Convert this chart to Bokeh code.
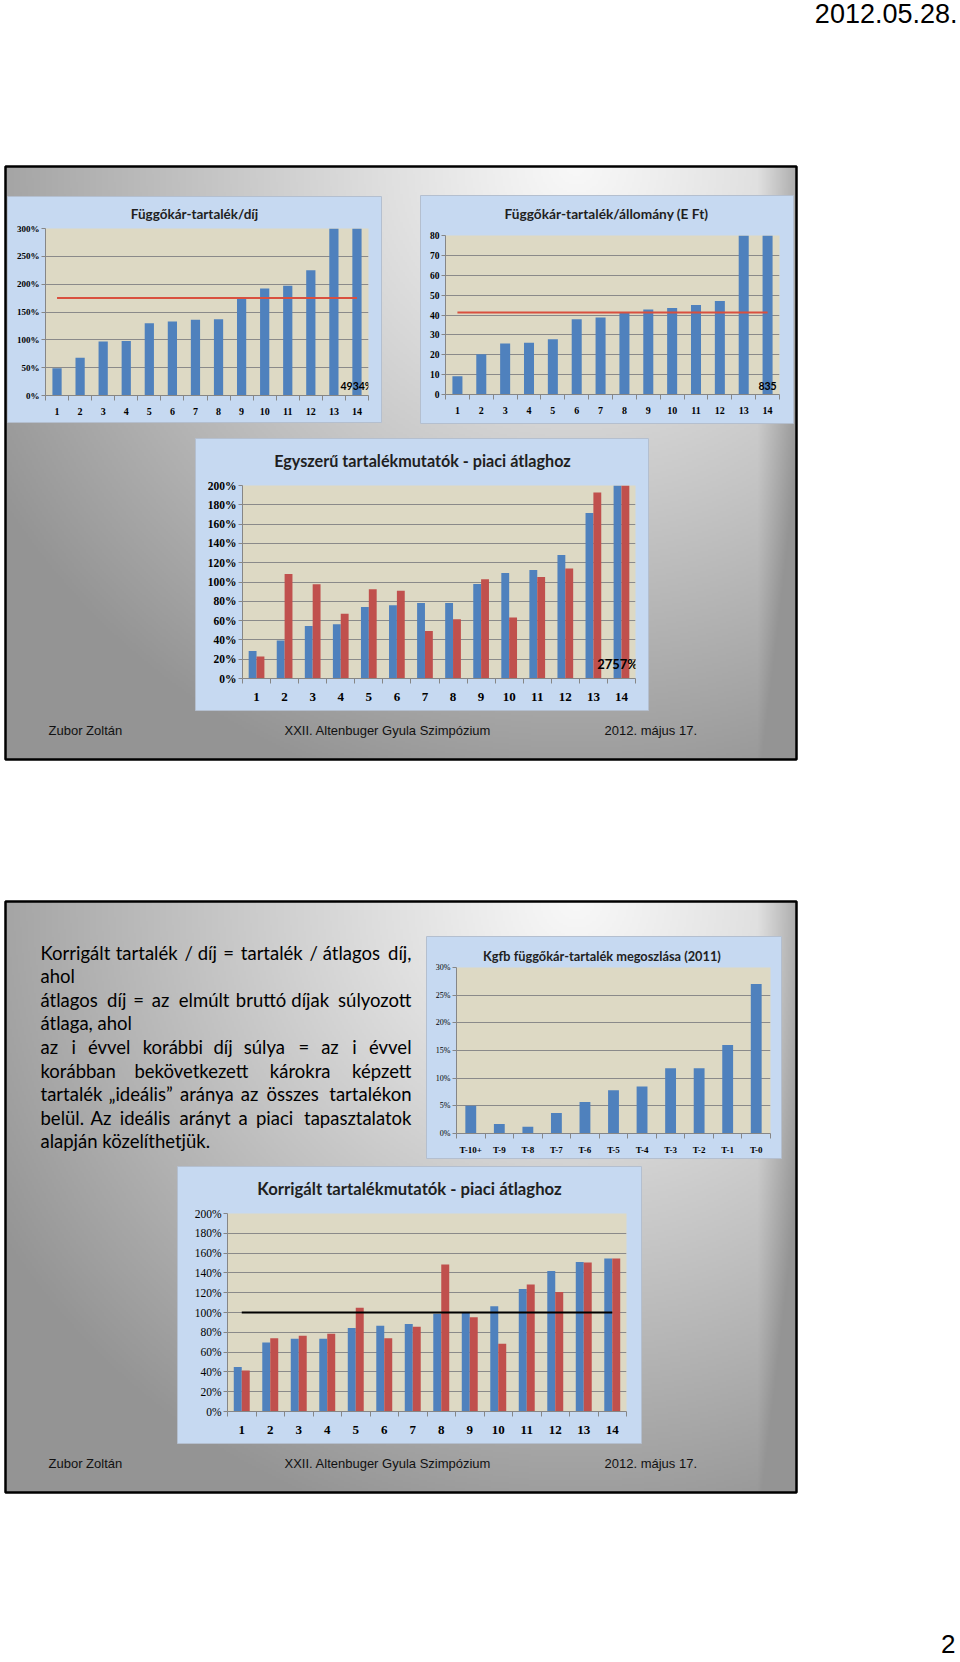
import numpy as np
from bokeh.plotting import figure
from bokeh.models import Range1d, FixedTicker, PrintfTickFormatter, GridBox, ColumnDataSource
from bokeh.transform import dodge
from bokeh.core.properties import value
from bokeh.embed import file_html
from bokeh.resources import INLINE

W, H = 960, 1662

# ---------------- data ----------------
cats14 = list(range(1, 15))

c1_title = "Függőkár-tartalék/díj"
c1_yticks = [0, 50, 100, 150, 200, 250, 300]
c1_vals = [49, 68, 97, 98, 130, 133, 136, 137, 177, 192, 197, 225, 330, 4934]
c1_avg = 175

c2_title = "Függőkár-tartalék/állomány (E Ft)"
c2_yticks = [0, 10, 20, 30, 40, 50, 60, 70, 80]
c2_vals = [9.2, 20.3, 25.6, 26.1, 27.8, 37.8, 38.7, 41.0, 42.8, 43.5, 45.0, 47.0, 95, 835]
c2_avg = 41.3

c3_title = "Egyszerű tartalékmutatók - piaci átlaghoz"
c3_yticks = [0, 20, 40, 60, 80, 100, 120, 140, 160, 180, 200]
c3_blue = [28.6, 39.3, 54.5, 56.2, 74.1, 75.9, 78.3, 78.3, 97.9, 109.3, 112.4, 127.9, 171.4, 2757]
c3_red = [22.8, 108.3, 97.6, 67.2, 92.4, 91.0, 49.3, 61.4, 102.8, 63.1, 105.2, 114.1, 192.8, 2500]

c4_title = "Kgfb függőkár-tartalék  megoszlása (2011)"
c4_cats = ["T-10+", "T-9", "T-8", "T-7", "T-6", "T-5", "T-4", "T-3", "T-2", "T-1", "T-0"]
c4_yticks = [0, 5, 10, 15, 20, 25, 30]
c4_vals = [5.0, 1.7, 1.2, 3.7, 5.7, 7.8, 8.5, 11.8, 11.8, 16.0, 27.0]

c5_title = "Korrigált tartalékmutatók - piaci átlaghoz"
c5_yticks = [0, 20, 40, 60, 80, 100, 120, 140, 160, 180, 200]
c5_blue = [44.9, 69.8, 73.5, 73.5, 84.3, 86.7, 88.4, 98.8, 99.5, 106.2, 123.8, 142.0, 151.1, 154.5]
c5_red = [41.5, 73.9, 76.6, 78.6, 104.9, 73.9, 85.7, 148.4, 95.1, 68.5, 128.2, 120.7, 150.4, 154.5]
c5_ref = 100

body_lines = [
    "Korrigált tartalék / díj = tartalék / átlagos díj,",
    "ahol",
    "átlagos díj = az elmúlt bruttó díjak súlyozott",
    "átlaga, ahol",
    "az i évvel korábbi díj súlya = az i évvel",
    "korábban bekövetkezett károkra képzett",
    "tartalék „ideális” aránya az összes tartalékon",
    "belül. Az ideális arányt a piaci tapasztalatok",
    "alapján közelíthetjük.",
]
body_justified = [True, False, True, False, True, True, True, True, False]

footer_left = "Zubor Zoltán"
footer_mid = "XXII. Altenbuger Gyula Szimpózium"
footer_right = "2012. május 17."
header_date = "2012.05.28."
page_no = "2"

# ---------------- style ----------------
BLUE = "#4f81bd"
RED = "#c0504d"
AVG_RED = "#d9503f"
PLOT_BG = "#ddd9c4"
BOX_BG = "#c6d9f1"
GRID = "#8a8a8a"
AXIS = "#868686"
SERIF = "Liberation Serif"
SANS = "Lato"
NARROW = "Liberation Sans Narrow, Liberation Sans, Arial Narrow"

# page-pixel boxes (x0, y0, x1, y1) and plot frames
# (c2 is offset by 1px so the grid does not align its frame with c1's)
BOX = {
    "c1": (7, 196, 381, 422), "c2": (420, 195, 793, 423), "c3": (195, 438, 648, 710),
    "c4": (426, 936, 781, 1158), "c5": (177, 1166, 641, 1443),
}
FRAME = {
    "c1": (45, 228, 368, 395), "c2": (445, 235, 779, 394), "c3": (242, 485, 635, 678),
    "c4": (456, 967, 770, 1133), "c5": (227, 1213, 626, 1411),
}


def make_chart(key, n, y_max, y_ticks, y_fmt, ylab_size, xlab_size, x_standoff, y_bold=True):
    bx0, by0, bx1, by1 = BOX[key]
    fx0, fy0, fx1, fy1 = FRAME[key]
    p = figure(width=bx1 - bx0, height=by1 - by0,
               x_range=Range1d(0.5, n + 0.5), y_range=Range1d(0, y_max),
               output_backend="svg", toolbar_location=None, title=None,
               min_border_left=fx0 - bx0, min_border_right=bx1 - fx1,
               min_border_top=fy0 - by0, min_border_bottom=by1 - fy1)
    p.border_fill_color = None
    p.background_fill_color = PLOT_BG
    p.outline_line_color = None
    p.xgrid.visible = False
    yt = FixedTicker(ticks=y_ticks)
    p.yaxis.ticker = yt
    p.ygrid.ticker = yt
    p.ygrid.grid_line_color = GRID
    p.ygrid.grid_line_width = 1
    p.yaxis.formatter = PrintfTickFormatter(format=y_fmt)
    p.yaxis.major_tick_out = 4
    p.yaxis.major_tick_in = 0
    p.yaxis.major_label_standoff = 2
    p.yaxis.major_label_text_font = SERIF
    p.yaxis.major_label_text_font_style = "bold" if y_bold else "normal"
    p.yaxis.major_label_text_font_size = f"{ylab_size}px"
    p.xaxis.ticker = FixedTicker(ticks=list(range(1, n + 1)),
                                 minor_ticks=[i + 0.5 for i in range(0, n + 1)])
    p.xaxis.major_tick_out = 0
    p.xaxis.major_tick_in = 0
    p.xaxis.minor_tick_out = 5
    p.xaxis.minor_tick_in = 0
    p.xaxis.major_label_standoff = x_standoff
    p.xaxis.major_label_text_font = SERIF
    p.xaxis.major_label_text_font_style = "bold"
    p.xaxis.major_label_text_font_size = f"{xlab_size}px"
    for ax in (p.xaxis, p.yaxis):
        ax.axis_line_color = AXIS
        ax.major_tick_line_color = AXIS
        ax.minor_tick_line_color = AXIS
        ax.major_label_text_color = "black"
    p.yaxis.minor_tick_line_color = None
    return p


# ---------- chart 1 ----------
c1 = make_chart("c1", 14, 300, c1_yticks, "%d%%", 9, 10, 7)
s1 = ColumnDataSource(dict(x=cats14, v=c1_vals))
c1.vbar(x="x", top="v", width=0.4, source=s1, fill_color=BLUE, line_color=None)
c1.line(x=[cats14[0], cats14[-1]], y=[c1_avg, c1_avg], line_color=AVG_RED, line_width=2)
c1.text(x=[cats14[-1]], y=[0], text=[f"{c1_vals[-1]}%"], text_align="center", text_baseline="bottom",
        y_offset=-4, text_font=value(SANS), text_font_style="bold", text_font_size="10.5px", text_color="black")

# ---------- chart 2 ----------
c2 = make_chart("c2", 14, 80, c2_yticks, "%d", 9.5, 10, 7)
s2 = ColumnDataSource(dict(x=cats14, v=c2_vals))
c2.vbar(x="x", top="v", width=0.42, source=s2, fill_color=BLUE, line_color=None)
c2.line(x=[cats14[0], cats14[-1]], y=[c2_avg, c2_avg], line_color=AVG_RED, line_width=2)
c2.text(x=[cats14[-1]], y=[0], text=[f"{c2_vals[-1]}"], text_align="center", text_baseline="bottom",
        y_offset=-5, text_font=value(SANS), text_font_style="bold", text_font_size="10.5px", text_color="black")

# ---------- chart 3 ----------
c3 = make_chart("c3", 14, 200, c3_yticks, "%d%%", 11.5, 13, 9)
s3 = ColumnDataSource(dict(x=cats14, b=c3_blue, r=c3_red))
c3.vbar(x=dodge("x", -0.14, range=c3.x_range), top="b", width=0.28, source=s3, fill_color=BLUE, line_color=None)
c3.vbar(x=dodge("x", 0.14, range=c3.x_range), top="r", width=0.28, source=s3, fill_color=RED, line_color=None)
s3l = ColumnDataSource(dict(x=[cats14[-1]], y=[0], t=[f"{c3_blue[-1]}%"]))
c3.text(x=dodge("x", -0.14, range=c3.x_range), y="y", text="t", source=s3l, text_align="center",
        text_baseline="bottom", y_offset=-7, text_font=value(SANS), text_font_style="bold",
        text_font_size="13px", text_color="black")

# ---------- chart 4 ----------
c4 = make_chart("c4", len(c4_cats), 30, c4_yticks, "%d%%", 8, 9, 6, y_bold=False)
c4.xaxis.major_label_overrides = {i + 1: lab for i, lab in enumerate(c4_cats)}
s4 = ColumnDataSource(dict(x=list(range(1, len(c4_cats) + 1)), v=c4_vals))
c4.vbar(x="x", top="v", width=0.38, source=s4, fill_color=BLUE, line_color=None)

# ---------- chart 5 ----------
c5 = make_chart("c5", 14, 200, c5_yticks, "%d%%", 11.5, 13, 9, y_bold=False)
s5 = ColumnDataSource(dict(x=cats14, b=c5_blue, r=c5_red))
c5.vbar(x=dodge("x", -0.14, range=c5.x_range), top="b", width=0.28, source=s5, fill_color=BLUE, line_color=None)
c5.vbar(x=dodge("x", 0.14, range=c5.x_range), top="r", width=0.28, source=s5, fill_color=RED, line_color=None)
c5.line(x=[cats14[0], cats14[-1]], y=[c5_ref, c5_ref], line_color="black", line_width=2)

# ---------------- background page ----------------
bg = figure(width=W, height=H, x_range=Range1d(0, W), y_range=Range1d(0, H),
            output_backend="svg", toolbar_location=None, title=None,
            x_axis_location=None, y_axis_location=None, min_border=0)
bg.grid.visible = False
bg.outline_line_color = None
bg.background_fill_color = "white"
bg.border_fill_color = "white"


def Y(y):
    return H - y


def slide_gradient(sw, sh, step=2):
    w, h = sw // step, sh // step
    u = (np.arange(w) + 0.5) * step
    v = (np.arange(h) + 0.5) * step
    U, V = np.meshgrid(u, v)
    d = np.sqrt(((U - 0.72 * sw) / (0.85 * sw)) ** 2 + (V / (1.1 * sh)) ** 2)
    t = np.clip(d, 0, 1)
    edge = np.clip(1 - (sw - U) / 40.0, 0, 1)
    t = np.clip(t + 0.45 * edge, 0, 1)
    g = (248 - 100 * t ** 1.1).astype(np.uint8)
    rgba = np.empty((h, w, 4), dtype=np.uint8)
    rgba[..., 0] = g
    rgba[..., 1] = g
    rgba[..., 2] = g
    rgba[..., 3] = 255
    rgba = np.ascontiguousarray(np.flipud(rgba))
    return rgba.view(np.uint32).reshape(h, w)


SLIDES = [(5, 166, 796, 759), (5, 901, 796, 1492)]
for (sx0, sy0, sx1, sy1) in SLIDES:
    img = slide_gradient(sx1 - sx0, sy1 - sy0)
    bg.image_rgba(image=[img], x=[sx0], y=[Y(sy1)], dw=[sx1 - sx0], dh=[sy1 - sy0])
    bg.quad(left=[sx0], right=[sx1], top=[Y(sy0)], bottom=[Y(sy1)],
            fill_color=None, line_color="black", line_width=2.5)

for key in BOX:
    x0, y0, x1, y1 = BOX[key]
    bg.quad(left=[x0], right=[x1], top=[Y(y0)], bottom=[Y(y1)],
            fill_color=BOX_BG, line_color="#b4bfcf", line_width=1)

# chart titles
titles = [(c1_title, 194, 213, 13.5), (c2_title, 606, 213, 13.7), (c3_title, 422, 460, 16.2),
          (c4_title, 603, 955, 12.8), (c5_title, 409, 1188, 16.7)]
for t, tx, ty, fs in titles:
    bg.text(x=[tx], y=[Y(ty)], text=[t], text_align="center", text_baseline="middle",
            text_font=value(SANS), text_font_style="bold", text_font_size=f"{fs}px", text_color="#1f1f1f")

# footers
for fy in (730, 1463):
    for t, fx in ((footer_left, 48), (footer_mid, 284), (footer_right, 604)):
        bg.text(x=[fx], y=[Y(fy)], text=[t], text_align="left", text_baseline="middle",
                text_font=value(NARROW), text_font_size="13px", text_color="#111111")

bg.text(x=[957], y=[Y(13)], text=[header_date], text_align="right", text_baseline="middle",
        text_font=value(NARROW), text_font_size="27px", text_color="black")
bg.text(x=[955], y=[Y(1643)], text=[page_no], text_align="right", text_baseline="middle",
        text_font=value(NARROW), text_font_size="26px", text_color="black")

# body text (justified by estimated word widths)
BODY_FS = 18.5
BODY_X0, BODY_X1 = 40, 411
BODY_Y0, BODY_DY = 952, 23.6


def est_width(s, fs):
    w = 0.0
    for ch in s:
        if ch in "iljíì.,'!|:;":
            w += 0.24
        elif ch in "ftr/":
            w += 0.34
        elif ch == " ":
            w += 0.19
        elif ch in "„”\"":
            w += 0.36
        elif ch in "mw":
            w += 0.8
        elif ch == "=":
            w += 0.58
        elif ch.isupper():
            w += 0.63
        else:
            w += 0.52
    return w * fs


lx, ly, lt, rx, ry, rt = [], [], [], [], [], []
for i, (line, just) in enumerate(zip(body_lines, body_justified)):
    yy = Y(BODY_Y0 + i * BODY_DY)
    if not just:
        lx.append(BODY_X0); ly.append(yy); lt.append(line)
        continue
    words = line.split(" ")
    widths = [est_width(w, BODY_FS) for w in words]
    gap = (BODY_X1 - BODY_X0 - sum(widths)) / (len(words) - 1)
    pos = BODY_X0
    for j, (w, ww) in enumerate(zip(words, widths)):
        if j == len(words) - 1:
            rx.append(BODY_X1); ry.append(yy); rt.append(w)
        else:
            lx.append(pos); ly.append(yy); lt.append(w)
        pos += ww + gap
bg.text(x=lx, y=ly, text=lt, text_align="left", text_baseline="middle",
        text_font=value(SANS), text_font_size=f"{BODY_FS}px", text_color="black")
bg.text(x=rx, y=ry, text=rt, text_align="right", text_baseline="middle",
        text_font=value(SANS), text_font_size=f"{BODY_FS}px", text_color="black")

# ---------------- layout (overlapping CSS grid) ----------------
charts = {"c1": c1, "c2": c2, "c3": c3, "c4": c4, "c5": c5}
xs = sorted(set([0, W] + [b[0] for b in BOX.values()] + [b[2] for b in BOX.values()]))
ys = sorted(set([0, H] + [b[1] for b in BOX.values()] + [b[3] for b in BOX.values()]))
cols = [f"{xs[i + 1] - xs[i]}px" for i in range(len(xs) - 1)]
rows = [f"{ys[i + 1] - ys[i]}px" for i in range(len(ys) - 1)]
children = [(bg, 0, 0, len(rows), len(cols))]
for key, fig in charts.items():
    x0, y0, x1, y1 = BOX[key]
    r0, r1 = ys.index(y0), ys.index(y1)
    k0, k1 = xs.index(x0), xs.index(x1)
    children.append((fig, r0, k0, r1 - r0, k1 - k0))

layout = GridBox(children=children, rows=rows, cols=cols, spacing=0)

open("out.html", "w").write(file_html(layout, INLINE))
